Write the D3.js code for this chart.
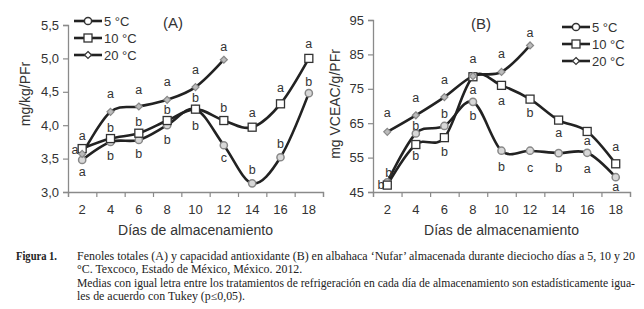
<!DOCTYPE html>
<html>
<head>
<meta charset="utf-8">
<script src="https://cdn.jsdelivr.net/npm/d3@7"></script>
<style>
  body { margin: 0; background: #fff; }
  svg { display: block; }
  text { font-family: "Liberation Sans", Arial, sans-serif; fill: #333; }
  .cap { font-family: "Liberation Serif", "Times New Roman", serif; font-size: 11.5px; fill: #222; }
</style>
</head>
<body>
<div id="chart"></div>
<script>
(function(){
  const days = [2, 4, 6, 8, 10, 12, 14, 16, 18];
  const seriesNames = ["5 °C", "10 °C", "20 °C"];

  // Panel A: fenoles totales (mg/kg/PFr)
  const a5 = [3.48, 3.75, 3.78, 4.0, 4.24, 3.7, 3.13, 3.52, 4.48];
  const a10 = [3.65, 3.8, 3.88, 4.07, 4.24, 4.07, 3.97, 4.32, 5.0];
  const a20 = [3.57, 4.2, 4.28, 4.38, 4.57, 4.98];

  // Panel B: capacidad antioxidante (mg VCEAC/g/PFr)
  const b5 = [47.8, 62, 64.2, 71.2, 57, 57, 56.3, 56.4, 49.3];
  const b10 = [47, 58.8, 60.8, 78.5, 76, 72, 65.9, 62.6, 53.2];
  const b20 = [62.5, 67.3, 72.6, 78.7, 79.9, 87.6];

  const yTicksA = [3.0, 3.5, 4.0, 4.5, 5.0, 5.5];
  const yTicksB = [45, 55, 65, 75, 85, 95];

  // Tukey letters: [day, letter, value where it sits]
  const lettersA = [
    [2, "a", 3.85], [1.5, "a", 3.63], [2, "a", 3.30],
    [4, "a", 4.47], [4, "b", 3.96], [4, "b", 3.55],
    [6, "a", 4.54], [6, "b", 4.05], [6, "b", 3.58],
    [8, "a", 4.65], [8, "b", 4.23], [8, "b", 3.78],
    [10, "a", 4.83], [10, "b", 4.41], [10, "b", 3.99],
    [12, "a", 5.17], [12, "b", 4.26], [12, "c", 3.52],
    [14, "a", 4.19], [14, "b", 3.33],
    [16, "a", 4.56], [16, "b", 3.72],
    [18, "a", 5.22], [18, "b", 4.65]
  ];
  const lettersB = [
    [2, "a", 68.0], [2.1, "b", 50.6], [1.56, "b", 47.0],
    [4, "a", 72.3], [4, "b", 64.2], [4, "b", 55.5],
    [6, "a", 77.8], [6, "b", 67.7], [6, "b", 56.6],
    [8, "a", 83.7], [8, "a", 74.9], [8, "b", 67.1],
    [10, "a", 85.1], [10, "a", 71.7], [10, "b", 52.3],
    [12, "a", 91.2], [12, "b", 68.0], [12, "c", 52.0],
    [14, "a", 62.2], [14, "b", 52.0],
    [16, "a", 59.8], [16, "a", 51.7],
    [18, "a", 58.1], [18, "a", 46.5]
  ];

  const caption = [
    "Fenoles totales (A) y capacidad antioxidante (B) en albahaca \u2018Nufar\u2019 almacenada durante dieciocho días a 5, 10 y 20",
    "°C. Texcoco, Estado de México, México. 2012.",
    "Medias con igual letra entre los tratamientos de refrigeración en cada día de almacenamiento son estadísticamente igua-",
    "les de acuerdo con Tukey (p\u22640,05)."
  ];

  const width = 644, height = 309;
  const svg = d3.select("#chart").append("svg")
    .attr("width", width).attr("height", height);
  svg.append("rect").attr("width", width).attr("height", height).attr("fill", "#fff");

  const comma = f => v => f(v).replace(".", ",");

  function marker(g, type, x, y, legend) {
    if (type === 0) {
      g.append("circle").attr("cx", x).attr("cy", y).attr("r", 3.6)
        .attr("fill", legend ? "#fff" : "#d8d8d8").attr("stroke", legend ? "#333" : "#888").attr("stroke-width", 1.5);
    } else if (type === 1) {
      g.append("rect").attr("x", x - 4).attr("y", y - 4).attr("width", 8).attr("height", 8)
        .attr("fill", "#fff").attr("stroke", "#333").attr("stroke-width", 1.3);
    } else {
      g.append("path").attr("d", `M${x},${y - 3.5}L${x + 3.5},${y}L${x},${y + 3.5}L${x - 3.5},${y}Z`)
        .attr("fill", legend ? "#fff" : "#bbb").attr("stroke", legend ? "#333" : "#888").attr("stroke-width", 1.2);
    }
  }

  function panel(opt) {
    const g = svg.append("g");
    const x = d3.scaleLinear().domain([1, 19]).range(opt.xr);
    const y = d3.scaleLinear().domain(opt.yd).range(opt.yr);

    // y axis
    const ya = g.append("g").attr("transform", `translate(${opt.xr[0]},0)`)
      .call(d3.axisLeft(y).tickValues(opt.yTicks).tickFormat(opt.fmt).tickSize(5).tickPadding(4));
    // x axis, ticks between the days
    const xa = g.append("g").attr("transform", `translate(0,${opt.yr[0]})`)
      .call(d3.axisBottom(x).tickValues(d3.range(1, 20, 2)).tickFormat("").tickSize(5));
    [ya, xa].forEach(a => {
      a.select(".domain").attr("stroke", "#8a8a8a").attr("stroke-width", 1.3);
      a.selectAll(".tick line").attr("stroke", "#8a8a8a").attr("stroke-width", 1.2);
    });
    ya.selectAll(".tick text").style("font-size", "13px").attr("fill", "#444")
      .style("font-family", "Liberation Sans, Arial, sans-serif");

    g.selectAll(".xl").data(days).enter().append("text")
      .attr("x", d => x(d)).attr("y", opt.yr[0] + 22)
      .attr("text-anchor", "middle").style("font-size", "13px").attr("fill", "#444")
      .text(d => d);

    g.append("text").attr("x", (opt.xr[0] + opt.xr[1]) / 2).attr("y", opt.yr[0] + 43)
      .attr("text-anchor", "middle").style("font-size", "14px").attr("fill", "#444")
      .text("Días de almacenamiento");

    g.append("text").attr("transform", `translate(${opt.ylx},${opt.yly}) rotate(-90)`)
      .attr("text-anchor", "middle").style("font-size", "14px").attr("fill", "#444")
      .text(opt.ylabel);

    g.append("text").attr("x", opt.title[0]).attr("y", opt.title[1])
      .attr("text-anchor", "middle").style("font-size", "15px").attr("fill", "#444")
      .text(opt.title[2]);

    const line = d3.line()
      .x((d, i) => x(days[i])).y(d => y(d))
      .curve(d3.curveCardinal.tension(0));

    opt.series.forEach(s => {
      g.append("path").attr("d", line(s)).attr("fill", "none")
        .attr("stroke", "#222").attr("stroke-width", 2.6);
    });
    opt.series.forEach((s, k) => {
      s.forEach((v, i) => marker(g, k, x(days[i]), y(v), false));
    });

    g.selectAll(".let").data(opt.letters).enter().append("text")
      .attr("x", d => x(d[0])).attr("y", d => y(d[2]))
      .attr("dy", "0.35em").attr("text-anchor", "middle")
      .style("font-size", "12.5px").attr("fill", "#444")
      .text(d => d[1]);

    // legend
    seriesNames.forEach((n, k) => {
      const ly = opt.leg[1] + k * 17;
      g.append("line").attr("x1", opt.leg[0]).attr("x2", opt.leg[0] + 28)
        .attr("y1", ly).attr("y2", ly).attr("stroke", "#222").attr("stroke-width", 2.6);
      marker(g, k, opt.leg[0] + 14, ly, true);
      g.append("text").attr("x", opt.leg[0] + 30).attr("y", ly).attr("dy", "0.35em")
        .style("font-size", "13px").attr("fill", "#444").text(n);
    });
  }

  panel({
    xr: [68, 323], yd: [3, 5.5], yr: [192, 25], yTicks: yTicksA,
    fmt: comma(d3.format(".1f")), series: [a5, a10, a20], letters: lettersA,
    ylabel: "mg/kg/PFr", ylx: 30, yly: 94, title: [173, 28, "(A)"], leg: [74, 21]
  });
  panel({
    xr: [373, 630], yd: [45, 95], yr: [192, 20], yTicks: yTicksB,
    fmt: d3.format("d"), series: [b5, b10, b20], letters: lettersB,
    ylabel: "mg VCEAC/g/PFr", ylx: 340, yly: 104, title: [481, 29, "(B)"], leg: [562, 27]
  });

  // caption: narrow serif, squeezed to the widths of the printed lines
  svg.append("text").attr("class", "cap").attr("x", 16).attr("y", 260)
    .style("font-weight", "bold").attr("textLength", 41).attr("lengthAdjust", "spacingAndGlyphs")
    .text("Figura 1.");
  const capY = [260, 273, 287, 300];
  const nodes = caption.map((c, i) => svg.append("text").attr("class", "cap")
    .attr("x", 77).attr("y", capY[i]).text(c));
  const squeeze = 168 / nodes[3].node().getComputedTextLength();
  nodes.forEach((t, i) => {
    const w = (i === 0 || i === 2) ? 558 : t.node().getComputedTextLength() * squeeze;
    t.attr("textLength", w).attr("lengthAdjust", "spacingAndGlyphs");
  });
})();
</script>
</body>
</html>
